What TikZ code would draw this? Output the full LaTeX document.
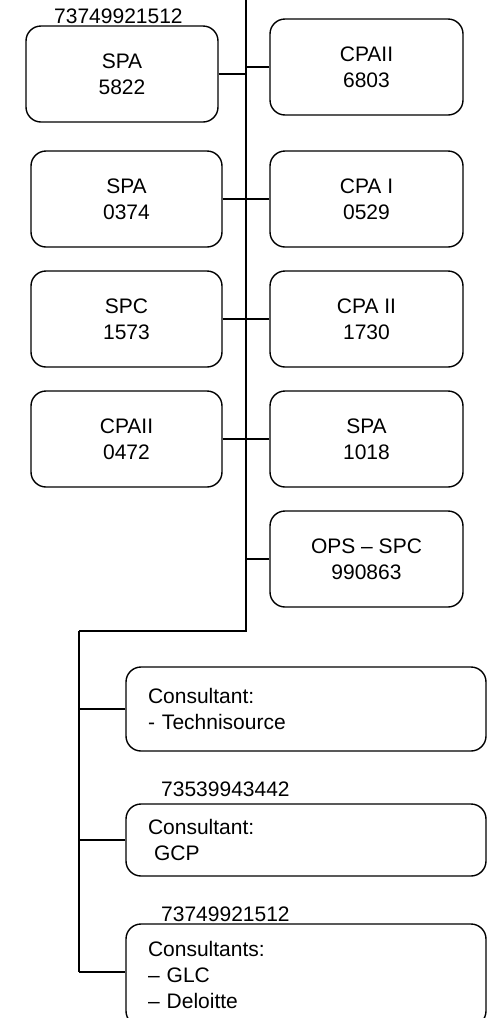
\documentclass[tikz,border=0pt]{standalone}
\usepackage{fontspec}
\setmainfont{Liberation Sans}
\usetikzlibrary{calc}

\tikzset{
  unitbox/.style={draw, line width=1.4pt, rounded corners=15pt, align=center,
    minimum width=192pt, minimum height=96pt, inner sep=0pt},
  consbox/.style={draw, line width=1.4pt, rounded corners=15pt, align=left,
    minimum width=360pt, text width=316pt, inner xsep=22pt, inner ysep=0pt},
  idlabel/.style={anchor=base west, inner sep=0pt},
  trunkline/.style={line width=2pt},
  branchline/.style={line width=1.4pt}
}

\begin{document}
\begin{tikzpicture}[x=1pt, y=-1pt, font=\fontsize{21}{26}\selectfont]
  \useasboundingbox (0,0) rectangle (487,1018);

  % trunk and the branch down to the consultants
  \coordinate (top) at (246,-2);
  \coordinate (turn) at (246,631);
  \coordinate (corner) at (79,631);
  \coordinate (foot) at (79,972);
  \draw[trunkline] (top) -- (turn) -- (corner);
  \draw[branchline] (corner) -- (foot);

  % first row
  \node[unitbox, minimum width=192pt] (l1) at (122,74) {SPA\\5822};
  \node[unitbox, minimum width=193pt] (r1) at (366.5,67) {CPAII\\6803};
  \node[idlabel] (id1) at (54,23) {73749921512};
  \draw[branchline] (l1.east) -- (l1.east -| top);
  \draw[branchline] (r1.west) -- (r1.west -| top);

  % remaining rows
  \foreach \n/\y/\a/\b in {2/199/{SPA\\0374}/{CPA I\\0529},
                           3/319/{SPC\\1573}/{CPA II\\1730},
                           4/439/{CPAII\\0472}/{SPA\\1018}}{
    \node[unitbox, minimum width=191pt] (l\n) at (126.5,\y) {\a};
    \node[unitbox, minimum width=193pt] (r\n) at (366.5,\y) {\b};
    \draw[branchline] (l\n.east) -- (l\n.east -| top);
    \draw[branchline] (r\n.west) -- (r\n.west -| top);
  }

  \node[unitbox, minimum width=193pt] (ops) at (366.5,559) {OPS -- SPC\\990863};
  \draw[branchline] (ops.west) -- (ops.west -| top);

  % consultants
  \node[consbox, minimum height=84pt] (c1) at (306,709) {Consultant:\\- Technisource};
  \node[consbox, minimum height=72pt] (c2) at (306,840) {Consultant:\\\hspace*{6pt}GCP};
  \node[consbox, minimum height=102pt] (c3) at (306,975) {Consultants:\\-- GLC\\-- Deloitte};
  \node[idlabel] (id2) at (161,796) {73539943442};
  \node[idlabel] (id3) at (161,921) {73749921512};
  \foreach \c in {c1,c2}
    \draw[branchline] (\c.west) -- (\c.west -| corner);
  \draw[branchline] (foot) -- (foot -| c3.west);
\end{tikzpicture}
\end{document}
